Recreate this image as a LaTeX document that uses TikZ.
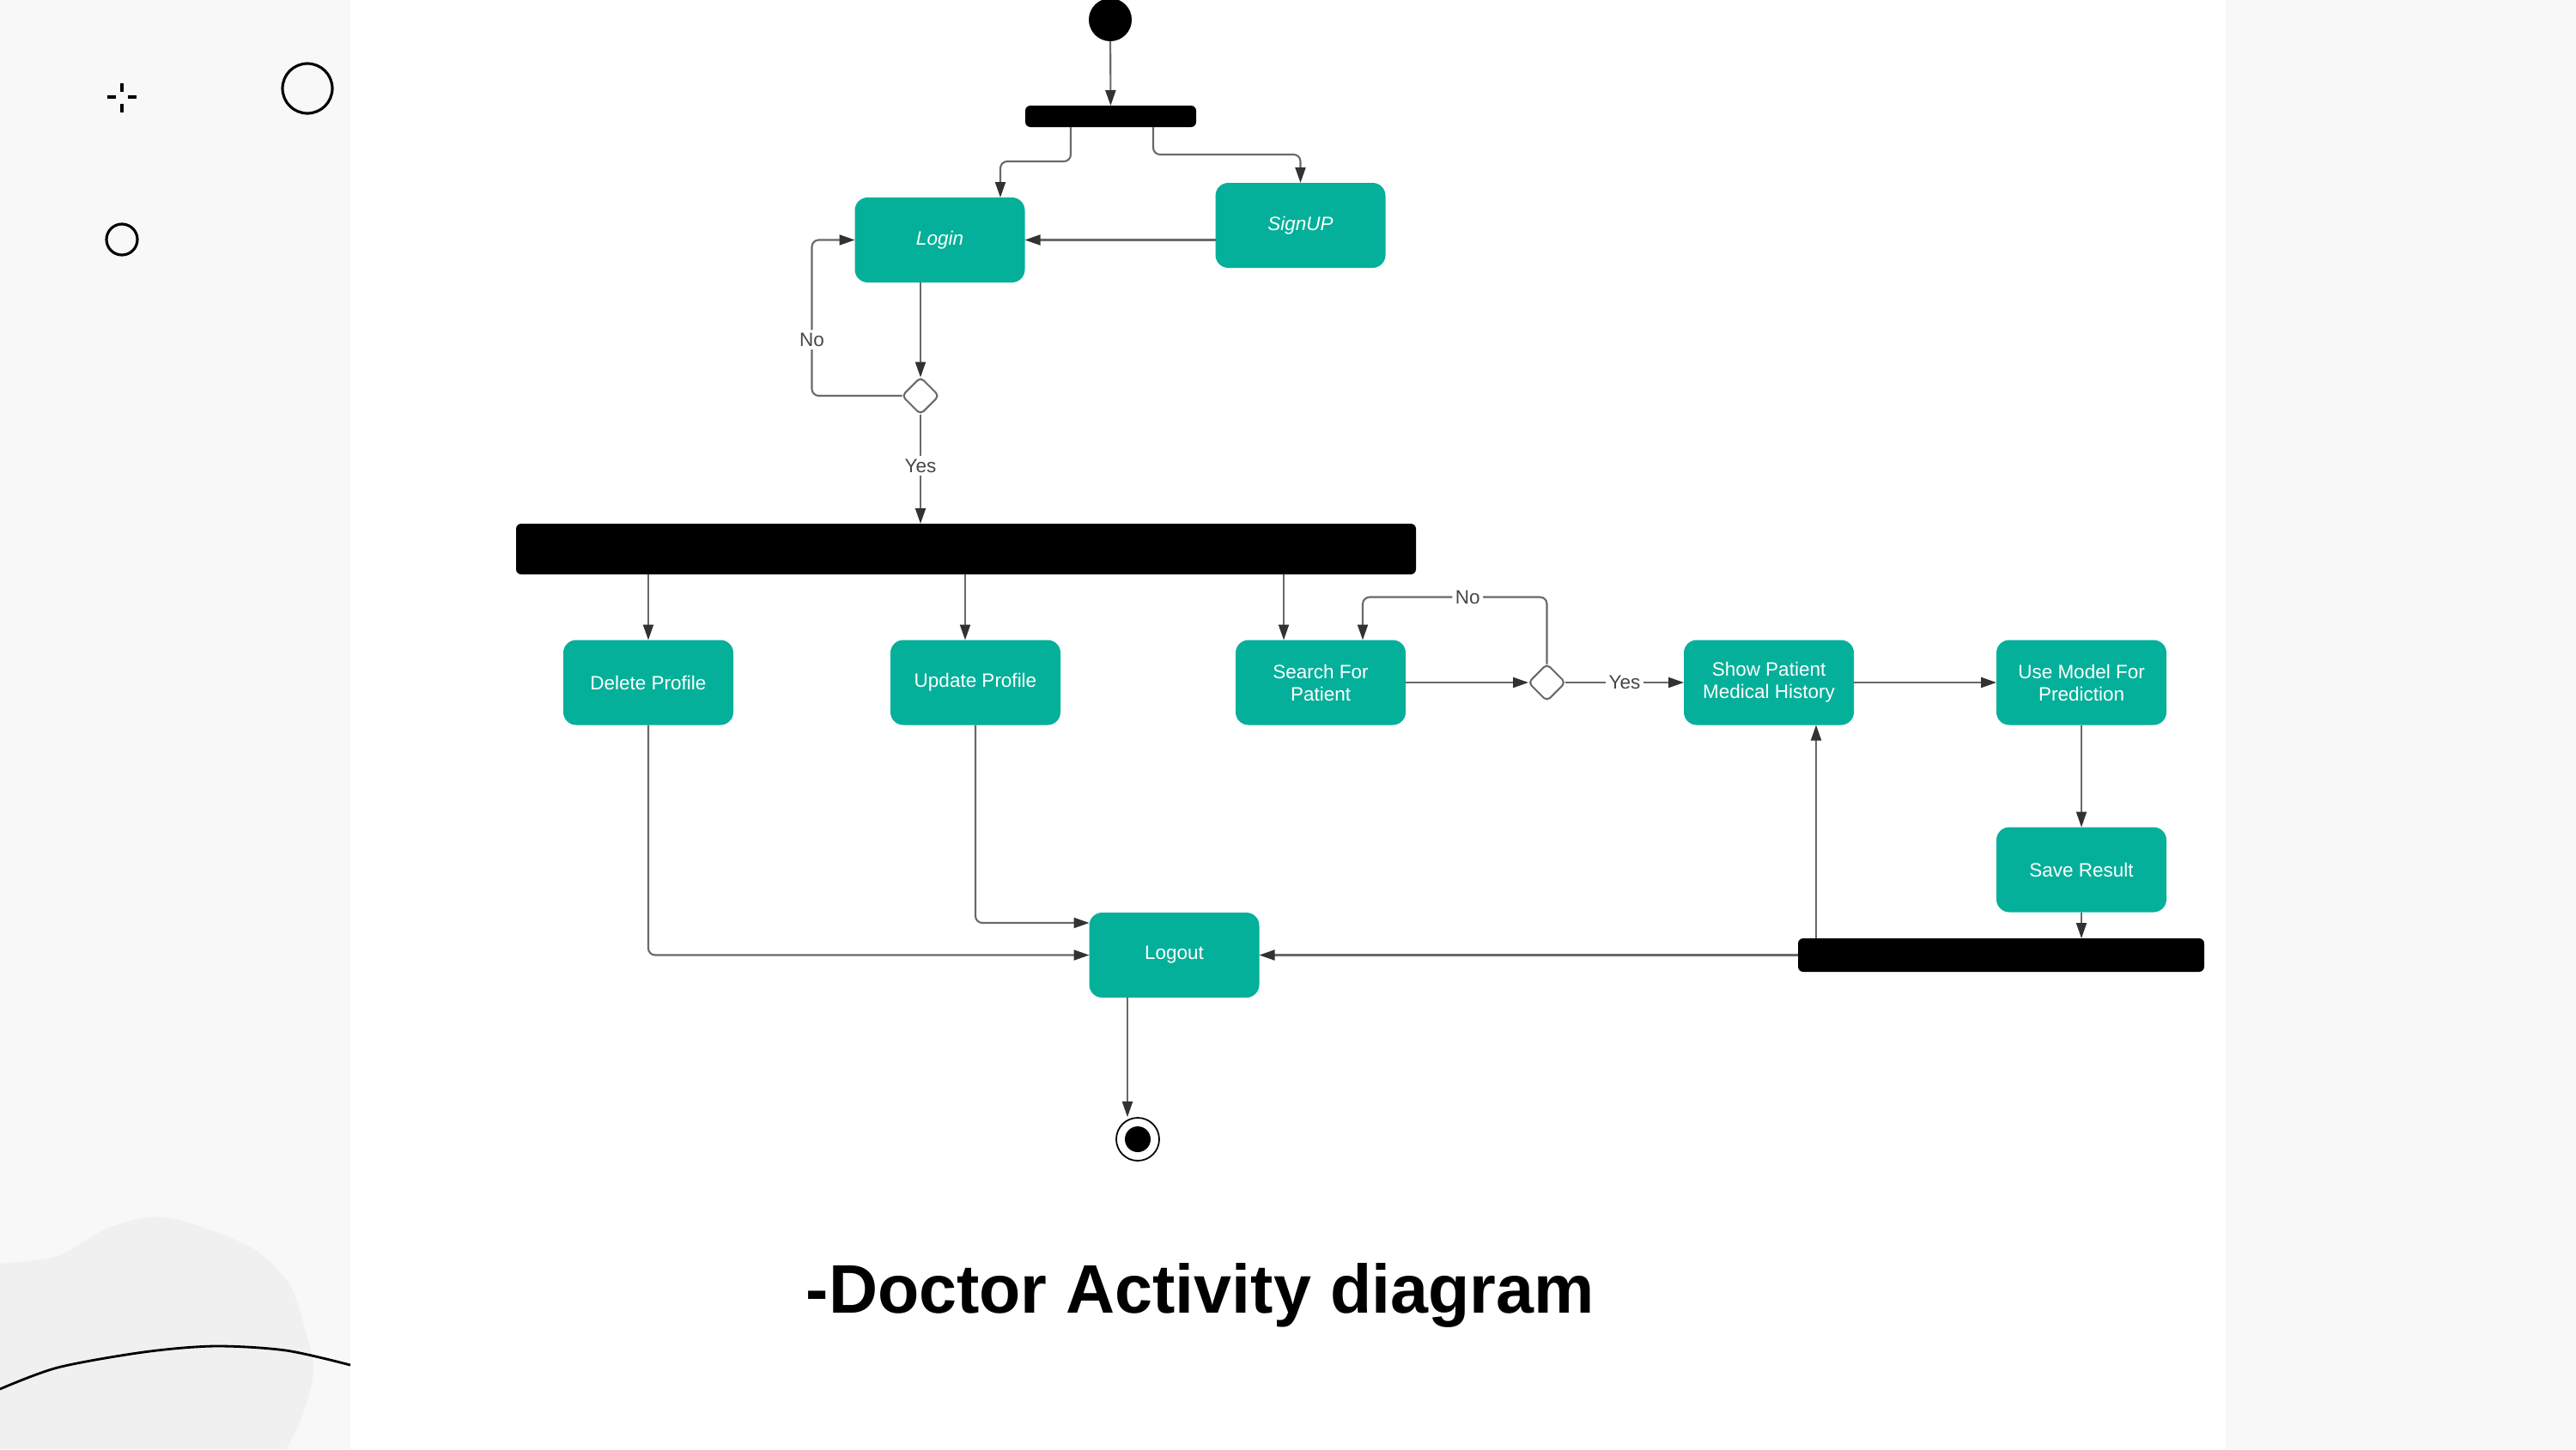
\documentclass[tikz,border=0pt]{standalone}
\usepackage{fontspec}
\setmainfont{Liberation Sans}
\usepackage{graphicx}
\usepackage{xcolor}
\usepackage{tikz}
\usetikzlibrary{shapes,arrows.meta,positioning,calc}
\definecolor{actteal}{RGB}{5,176,154}
\definecolor{panelgray}{RGB}{248,248,248}
\definecolor{blobgray}{RGB}{240,240,240}
\definecolor{linegray}{RGB}{105,105,105}
\definecolor{tipgray}{RGB}{50,50,50}
\definecolor{guardgray}{RGB}{70,70,70}
\newcommand{\actfont}{\fontsize{6.4}{7.4}\selectfont}

\begin{document}
\begin{tikzpicture}[
    act/.style={rectangle, fill=actteal, text=white, rounded corners=0.15cm, minimum width=1.98cm, minimum height=0.99cm, outer sep=0pt, align=center, font=\actfont},
    bar/.style={rectangle, fill=black, rounded corners=0.06cm, inner sep=0pt, outer sep=0pt},
    decision/.style={diamond, draw=linegray, fill=white, line width=0.6pt, rounded corners=0.05cm, minimum width=0.43cm, minimum height=0.43cm, inner sep=0pt, outer sep=0pt},
    flow/.style={draw=linegray, line width=0.6pt, rounded corners=0.08cm, -{Triangle[length=0.18cm, width=0.12cm, color=tipgray]}},
    guard/.style={fill=white, text=guardgray, font=\actfont, inner sep=1pt}
]
\useasboundingbox (0,0) rectangle (30,-16.88);

% Page background
\fill[white] (0,0) rectangle (30,-16.88);
\fill[panelgray] (0,0) rectangle (4.08,-16.88);
\fill[panelgray] (25.92,0) rectangle (30,-16.88);
\fill[blobgray] plot[smooth] coordinates {(0,-14.72) (0.67,-14.63) (1.27,-14.30) (1.93,-14.18) (2.87,-14.50) (3.33,-14.90) (3.50,-15.30) (3.65,-15.93) (3.53,-16.47) (3.33,-16.88)} -- (0,-16.88) -- cycle;
\draw[line width=0.8pt] plot[smooth] coordinates {(0,-16.18) (0.67,-15.93) (1.67,-15.75) (2.50,-15.68) (3.33,-15.73) (4.08,-15.90)};
\draw[line width=0.9pt] (1.25,-1.13) -- (1.35,-1.13) (1.49,-1.13) -- (1.59,-1.13)
    (1.42,-0.97) -- (1.42,-1.07) (1.42,-1.21) -- (1.42,-1.31);
\draw[line width=0.9pt] (3.58,-1.03) circle (0.29);
\draw[line width=0.9pt] (1.42,-2.79) circle (0.18);

% Entry
\node[circle, fill=black, minimum size=0.5cm, inner sep=0pt, outer sep=0pt] (start) at (12.93,-0.23) {};
\node[bar, minimum width=1.99cm, minimum height=0.25cm] (barone) at (12.935,-1.355) {};
\node[act, font=\actfont\itshape] (login) at (10.945,-2.795) {Login};
\node[act, font=\actfont\itshape, right=2.22cm of login, yshift=0.17cm] (signup) {SignUP};
\node[decision] (decone) at (10.72,-4.61) {};

% Doctor actions
\node[bar, minimum width=10.48cm, minimum height=0.59cm] (bartwo) at (11.25,-6.395) {};
\node[act] (del) at (7.55,-7.95) {Delete Profile};
\node[act, right=1.83cm of del] (upd) {Update Profile};
\node[act, right=2.04cm of upd] (search) {Search For\\Patient};
\node[decision, right=1.43cm of search] (dectwo) {};
\node[act, right=1.38cm of dectwo] (show) {Show Patient\\Medical History};
\node[act, right=1.66cm of show] (use) {Use Model For\\Prediction};
\node[act, below=1.19cm of use] (save) {Save Result};
\node[bar, minimum width=4.73cm, minimum height=0.39cm] (barthree) at (23.305,-11.125) {};

% Exit
\node[act] (logout) at (13.675,-11.125) {Logout};
\node[circle, draw=black, line width=0.5pt, fill=white, minimum size=0.5cm, inner sep=0pt,
    path picture={\fill[black] (path picture bounding box.center) circle (0.15cm);}] (finish) at (13.25,-13.27) {};

% Connections
\draw[flow] (start) -- (barone);
\draw[flow] ([xshift=-0.465cm]barone.south) -- ++(0,-0.40) -| ([xshift=0.705cm]login.north);
\draw[flow] ([xshift=0.495cm]barone.south) -- ++(0,-0.32) -| (signup.north);
\draw[flow] (signup.west |- login.east) -- (login.east);
\draw[flow] (login.south -| decone.north) -- (decone.north);
\draw[flow] (decone.west) -- ++(-1.05,0) |- node[guard, pos=0.18] {No} (login.west);
\draw[flow] (decone.south) -- node[guard, pos=0.47] {Yes} (decone.south |- bartwo.north);

\draw[flow] (del.north |- bartwo.south) -- (del.north);
\draw[flow] ([xshift=-0.12cm]upd.north |- bartwo.south) -- ([xshift=-0.12cm]upd.north);
\draw[flow] ([xshift=-0.43cm]search.north |- bartwo.south) -- ([xshift=-0.43cm]search.north);
\draw[flow] (search.east) -- (dectwo.west);
\draw[flow] (dectwo.north) -- ++(0,0.78) -| node[guard, pos=0.215] {No} ([xshift=0.49cm]search.north);
\draw[flow] (dectwo.east) -- node[guard] {Yes} (show.west);
\draw[flow] (show.east) -- (use.west);
\draw[flow] (use.south) -- (save.north);
\draw[flow] (save.south) -- (save.south |- barthree.north);
\draw[flow] ([xshift=0.55cm]show.south |- barthree.north) -- ([xshift=0.55cm]show.south);
\draw[flow] (barthree.west) -- (logout.east);
\draw[flow] (del.south) |- (logout.west);
\draw[flow] (upd.south) |- ([yshift=0.375cm]logout.west);
\draw[flow] ([xshift=-0.545cm]logout.south) -- ([xshift=-0.545cm]logout.south |- finish.north);

% Title
\node[anchor=base west, inner sep=0pt] (title) at (9.38,-15.29) {\resizebox{9.18cm}{0.58cm}{\bfseries -Doctor Activity diagram}};
\end{tikzpicture}
\end{document}
